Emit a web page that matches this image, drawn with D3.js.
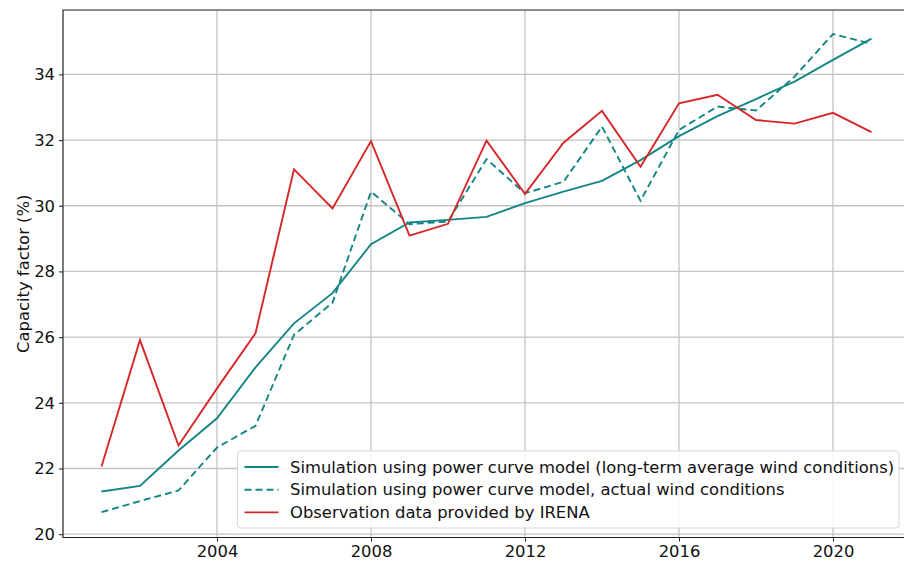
<!DOCTYPE html>
<html>
<head>
<meta charset="utf-8">
<script src="https://cdn.jsdelivr.net/npm/d3@7"></script>
<style>
  body { margin: 0; background: #fff; }
  svg { display: block; font-family: "DejaVu Sans", sans-serif; }
</style>
</head>
<body>
<svg width="904" height="565"></svg>
<script>
// data
var years = d3.range(2001, 2022);
var simAverage = [21.30, 21.47, 22.55, 23.53, 25.08, 26.42, 27.34, 28.83, 29.49, 29.57,
                  29.66, 30.08, 30.43, 30.76, 31.39, 32.12, 32.73, 33.25, 33.78, 34.44, 35.09];
var simActual = [20.67, 21.01, 21.33, 22.64, 23.30, 26.07, 27.05, 30.43, 29.44, 29.52,
                 31.42, 30.38, 30.73, 32.41, 30.15, 32.31, 33.02, 32.90, 33.93, 35.23, 34.93];
var irena = [22.06, 25.91, 22.70, 24.44, 26.12, 31.11, 29.92, 31.97, 29.09, 29.45,
             31.98, 30.36, 31.92, 32.89, 31.19, 33.12, 33.38, 32.61, 32.50, 32.83, 32.24];
var xTicks = [2004, 2008, 2012, 2016, 2020];
var yTicks = [20, 22, 24, 26, 28, 30, 32, 34];
var seriesNames = [
    "Simulation using power curve model (long-term average wind conditions)",
    "Simulation using power curve model, actual wind conditions",
    "Observation data provided by IRENA"
];

var teal = "#148585", red = "#d62728";
var fontSize = 16.4;

var series = [
    {name: seriesNames[0], values: simAverage, color: teal, dash: null},
    {name: seriesNames[1], values: simActual, color: teal, dash: "7,4"},
    {name: seriesNames[2], values: irena, color: red, dash: null}
];

var svg = d3.select("svg"),
    margin = {top: 10, left: 63},
    plotW = 847,          // right spine falls just off the picture
    plotH = 527.5,
    g = svg.append("g").attr("transform", "translate(" + margin.left + "," + margin.top + ")");

var x = d3.scaleLinear().domain([2000, 2022]).range([0, plotW]);
var y = d3.scaleLinear().domain([19.9, 35.96]).range([plotH, 0]);

// grid
g.append("g").selectAll("line").data(yTicks).enter().append("line")
    .attr("x1", 0).attr("x2", plotW)
    .attr("y1", function (d) { return y(d); }).attr("y2", function (d) { return y(d); })
    .attr("stroke", "#c4c4c4").attr("stroke-width", 1.3);
g.append("g").selectAll("line").data(xTicks).enter().append("line")
    .attr("y1", 0).attr("y2", plotH)
    .attr("x1", function (d) { return x(d); }).attr("x2", function (d) { return x(d); })
    .attr("stroke", "#c4c4c4").attr("stroke-width", 1.3);

// axes
var axisX = g.append("g").attr("transform", "translate(0," + plotH + ")")
    .call(d3.axisBottom(x).tickValues(xTicks).tickFormat(d3.format("d")).tickSize(4).tickPadding(4));
var axisY = g.append("g")
    .call(d3.axisLeft(y).tickValues(yTicks).tickSize(4).tickPadding(4));
[axisX, axisY].forEach(function (a) {
    a.select(".domain").remove();
    a.selectAll("line").attr("stroke", "#222").attr("stroke-width", 1);
    a.selectAll("text").attr("font-size", fontSize).attr("fill", "#111")
        .attr("font-family", "DejaVu Sans, sans-serif");
});

// frame (top, left, bottom)
g.append("path")
    .attr("d", "M" + plotW + ",0H0V" + plotH + "H" + plotW)
    .attr("fill", "none").attr("stroke", "#222").attr("stroke-width", 1.2);

svg.append("text")
    .attr("transform", "translate(29," + (margin.top + plotH / 2) + ") rotate(-90)")
    .attr("text-anchor", "middle")
    .attr("font-size", fontSize).attr("fill", "#111")
    .text("Capacity factor (%)");

// lines
var line = d3.line()
    .x(function (d, i) { return x(years[i]); })
    .y(function (d) { return y(d); });

g.selectAll(".series").data(series).enter().append("path")
    .attr("class", "series")
    .attr("d", function (d) { return line(d.values); })
    .attr("fill", "none")
    .attr("stroke", function (d) { return d.color; })
    .attr("stroke-width", 1.9)
    .attr("stroke-dasharray", function (d) { return d.dash; });

// legend
var legend = svg.append("g").attr("transform", "translate(237.5,451)");
legend.append("rect")
    .attr("width", 661.5).attr("height", 77).attr("rx", 3)
    .attr("fill", "#fff").attr("fill-opacity", 0.85)
    .attr("stroke", "#d6d6d6").attr("stroke-width", 1);
var items = legend.selectAll(".item").data(series).enter().append("g")
    .attr("transform", function (d, i) { return "translate(0," + (16 + i * 22.7) + ")"; });
items.append("line")
    .attr("x1", 7).attr("x2", 41)
    .attr("stroke", function (d) { return d.color; })
    .attr("stroke-width", 1.9)
    .attr("stroke-dasharray", function (d) { return d.dash; });
items.append("text")
    .attr("x", 52.5).attr("dy", "0.35em")
    .attr("font-size", fontSize).attr("fill", "#111")
    .text(function (d) { return d.name; });
</script>
</body>
</html>
